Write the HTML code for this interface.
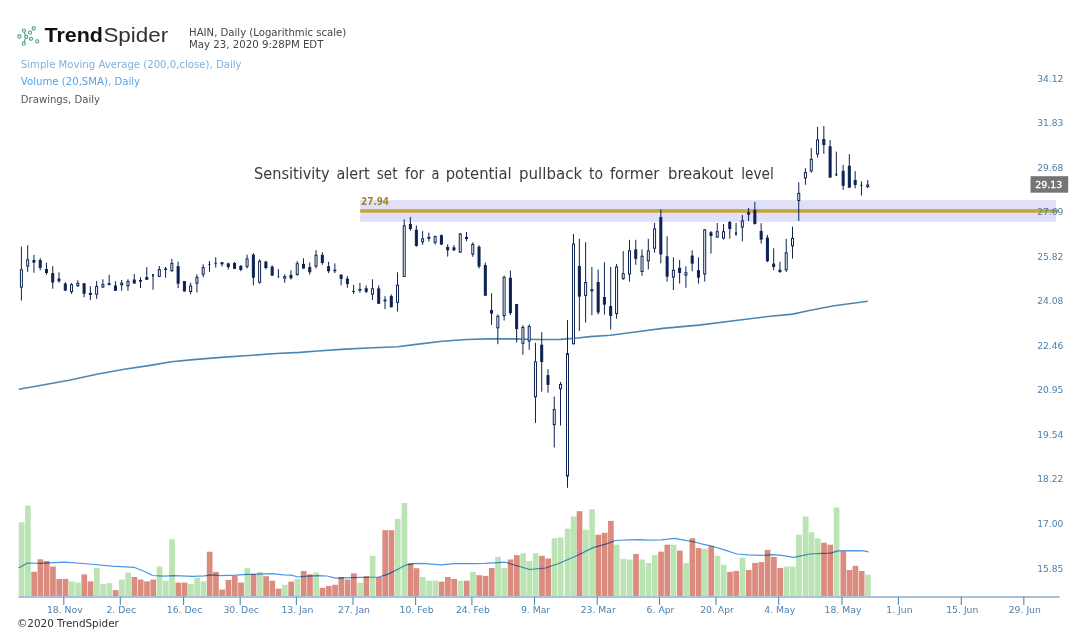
<!DOCTYPE html><html><head><meta charset="utf-8"><title>TrendSpider HAIN</title>
<style>html,body{margin:0;padding:0;background:#fff}svg{display:block}text{font-family:"DejaVu Sans Condensed","DejaVu Sans","Liberation Sans",sans-serif}.lg{font-family:"Liberation Sans",sans-serif}.n{font-family:"DejaVu Sans","Liberation Sans",sans-serif}</style></head><body>
<svg width="1086" height="638" viewBox="0 0 1086 638">
<rect width="1086" height="638" fill="#fff"/>
<rect x="360.2" y="200.1" width="695.8" height="21.7" fill="#e0e0fb"/>
<g>
<rect x="18.75" y="522.3" width="5.7" height="74.3" fill="#bae4b3"/>
<rect x="25.02" y="505.7" width="5.7" height="90.9" fill="#bae4b3"/>
<rect x="31.29" y="571.8" width="5.7" height="24.8" fill="#db8c7f"/>
<rect x="37.56" y="559.3" width="5.7" height="37.3" fill="#db8c7f"/>
<rect x="43.83" y="561.0" width="5.7" height="35.6" fill="#db8c7f"/>
<rect x="50.09" y="566.5" width="5.7" height="30.1" fill="#db8c7f"/>
<rect x="56.36" y="578.9" width="5.7" height="17.7" fill="#db8c7f"/>
<rect x="62.63" y="578.9" width="5.7" height="17.7" fill="#db8c7f"/>
<rect x="68.90" y="581.4" width="5.7" height="15.2" fill="#bae4b3"/>
<rect x="75.17" y="582.6" width="5.7" height="14.0" fill="#bae4b3"/>
<rect x="81.44" y="574.4" width="5.7" height="22.2" fill="#db8c7f"/>
<rect x="87.71" y="581.4" width="5.7" height="15.2" fill="#db8c7f"/>
<rect x="93.98" y="568.0" width="5.7" height="28.6" fill="#bae4b3"/>
<rect x="100.25" y="584.1" width="5.7" height="12.5" fill="#bae4b3"/>
<rect x="106.52" y="583.1" width="5.7" height="13.5" fill="#bae4b3"/>
<rect x="112.79" y="590.1" width="5.7" height="6.5" fill="#db8c7f"/>
<rect x="119.05" y="579.6" width="5.7" height="17.0" fill="#bae4b3"/>
<rect x="125.32" y="572.6" width="5.7" height="24.0" fill="#bae4b3"/>
<rect x="131.59" y="577.0" width="5.7" height="19.6" fill="#db8c7f"/>
<rect x="137.86" y="579.6" width="5.7" height="17.0" fill="#db8c7f"/>
<rect x="144.13" y="581.4" width="5.7" height="15.2" fill="#db8c7f"/>
<rect x="150.40" y="579.6" width="5.7" height="17.0" fill="#db8c7f"/>
<rect x="156.67" y="566.5" width="5.7" height="30.1" fill="#bae4b3"/>
<rect x="162.94" y="580.7" width="5.7" height="15.9" fill="#bae4b3"/>
<rect x="169.21" y="539.2" width="5.7" height="57.4" fill="#bae4b3"/>
<rect x="175.47" y="582.6" width="5.7" height="14.0" fill="#db8c7f"/>
<rect x="181.74" y="582.6" width="5.7" height="14.0" fill="#db8c7f"/>
<rect x="188.01" y="584.1" width="5.7" height="12.5" fill="#bae4b3"/>
<rect x="194.28" y="577.9" width="5.7" height="18.7" fill="#bae4b3"/>
<rect x="200.55" y="581.4" width="5.7" height="15.2" fill="#bae4b3"/>
<rect x="206.82" y="551.7" width="5.7" height="44.9" fill="#db8c7f"/>
<rect x="213.09" y="571.9" width="5.7" height="24.7" fill="#db8c7f"/>
<rect x="219.36" y="589.6" width="5.7" height="7.0" fill="#db8c7f"/>
<rect x="225.63" y="579.9" width="5.7" height="16.7" fill="#db8c7f"/>
<rect x="231.90" y="575.9" width="5.7" height="20.7" fill="#db8c7f"/>
<rect x="238.16" y="582.6" width="5.7" height="14.0" fill="#db8c7f"/>
<rect x="244.43" y="568.2" width="5.7" height="28.4" fill="#bae4b3"/>
<rect x="250.70" y="574.1" width="5.7" height="22.5" fill="#db8c7f"/>
<rect x="256.97" y="571.9" width="5.7" height="24.7" fill="#bae4b3"/>
<rect x="263.24" y="576.2" width="5.7" height="20.4" fill="#db8c7f"/>
<rect x="269.51" y="580.7" width="5.7" height="15.9" fill="#db8c7f"/>
<rect x="275.78" y="588.6" width="5.7" height="8.0" fill="#db8c7f"/>
<rect x="282.05" y="584.8" width="5.7" height="11.8" fill="#bae4b3"/>
<rect x="288.32" y="581.6" width="5.7" height="15.0" fill="#db8c7f"/>
<rect x="294.59" y="578.9" width="5.7" height="17.7" fill="#bae4b3"/>
<rect x="300.85" y="571.0" width="5.7" height="25.6" fill="#db8c7f"/>
<rect x="307.12" y="574.4" width="5.7" height="22.2" fill="#db8c7f"/>
<rect x="313.39" y="572.6" width="5.7" height="24.0" fill="#bae4b3"/>
<rect x="319.66" y="587.8" width="5.7" height="8.8" fill="#db8c7f"/>
<rect x="325.93" y="586.0" width="5.7" height="10.6" fill="#db8c7f"/>
<rect x="332.20" y="584.8" width="5.7" height="11.8" fill="#db8c7f"/>
<rect x="338.47" y="577.0" width="5.7" height="19.6" fill="#db8c7f"/>
<rect x="344.74" y="579.6" width="5.7" height="17.0" fill="#db8c7f"/>
<rect x="351.01" y="573.4" width="5.7" height="23.2" fill="#db8c7f"/>
<rect x="357.28" y="582.6" width="5.7" height="14.0" fill="#bae4b3"/>
<rect x="363.54" y="576.2" width="5.7" height="20.4" fill="#db8c7f"/>
<rect x="369.81" y="555.8" width="5.7" height="40.8" fill="#bae4b3"/>
<rect x="376.08" y="577.0" width="5.7" height="19.6" fill="#db8c7f"/>
<rect x="382.35" y="530.2" width="5.7" height="66.4" fill="#db8c7f"/>
<rect x="388.62" y="530.2" width="5.7" height="66.4" fill="#db8c7f"/>
<rect x="394.89" y="518.9" width="5.7" height="77.7" fill="#bae4b3"/>
<rect x="401.56" y="503.0" width="5.7" height="93.6" fill="#bae4b3"/>
<rect x="407.73" y="563.0" width="5.7" height="33.6" fill="#db8c7f"/>
<rect x="413.70" y="568.2" width="5.7" height="28.4" fill="#db8c7f"/>
<rect x="419.97" y="577.0" width="5.7" height="19.6" fill="#bae4b3"/>
<rect x="426.23" y="580.7" width="5.7" height="15.9" fill="#bae4b3"/>
<rect x="432.50" y="580.7" width="5.7" height="15.9" fill="#bae4b3"/>
<rect x="438.77" y="581.6" width="5.7" height="15.0" fill="#db8c7f"/>
<rect x="445.04" y="577.0" width="5.7" height="19.6" fill="#db8c7f"/>
<rect x="451.31" y="578.9" width="5.7" height="17.7" fill="#db8c7f"/>
<rect x="457.58" y="580.7" width="5.7" height="15.9" fill="#bae4b3"/>
<rect x="463.85" y="580.7" width="5.7" height="15.9" fill="#db8c7f"/>
<rect x="470.12" y="571.8" width="5.7" height="24.8" fill="#bae4b3"/>
<rect x="476.39" y="575.2" width="5.7" height="21.4" fill="#db8c7f"/>
<rect x="482.66" y="575.9" width="5.7" height="20.7" fill="#db8c7f"/>
<rect x="488.92" y="568.0" width="5.7" height="28.6" fill="#db8c7f"/>
<rect x="495.19" y="556.9" width="5.7" height="39.7" fill="#bae4b3"/>
<rect x="501.46" y="568.0" width="5.7" height="28.6" fill="#bae4b3"/>
<rect x="507.73" y="559.5" width="5.7" height="37.1" fill="#db8c7f"/>
<rect x="514.00" y="555.1" width="5.7" height="41.5" fill="#db8c7f"/>
<rect x="520.27" y="553.3" width="5.7" height="43.3" fill="#bae4b3"/>
<rect x="526.54" y="561.0" width="5.7" height="35.6" fill="#bae4b3"/>
<rect x="532.81" y="553.3" width="5.7" height="43.3" fill="#bae4b3"/>
<rect x="539.08" y="555.8" width="5.7" height="40.8" fill="#db8c7f"/>
<rect x="545.35" y="558.5" width="5.7" height="38.1" fill="#db8c7f"/>
<rect x="551.62" y="538.3" width="5.7" height="58.3" fill="#bae4b3"/>
<rect x="557.88" y="537.5" width="5.7" height="59.1" fill="#bae4b3"/>
<rect x="564.85" y="528.7" width="5.7" height="67.9" fill="#bae4b3"/>
<rect x="570.82" y="516.4" width="5.7" height="80.2" fill="#bae4b3"/>
<rect x="576.69" y="511.2" width="5.7" height="85.4" fill="#db8c7f"/>
<rect x="582.96" y="529.8" width="5.7" height="66.8" fill="#bae4b3"/>
<rect x="589.23" y="509.3" width="5.7" height="87.3" fill="#bae4b3"/>
<rect x="595.50" y="534.7" width="5.7" height="61.9" fill="#db8c7f"/>
<rect x="601.77" y="532.8" width="5.7" height="63.8" fill="#db8c7f"/>
<rect x="608.04" y="520.9" width="5.7" height="75.7" fill="#db8c7f"/>
<rect x="613.91" y="544.7" width="5.7" height="51.9" fill="#bae4b3"/>
<rect x="620.57" y="558.8" width="5.7" height="37.8" fill="#bae4b3"/>
<rect x="626.84" y="559.5" width="5.7" height="37.1" fill="#bae4b3"/>
<rect x="633.11" y="554.0" width="5.7" height="42.6" fill="#db8c7f"/>
<rect x="639.38" y="559.5" width="5.7" height="37.1" fill="#bae4b3"/>
<rect x="645.65" y="563.0" width="5.7" height="33.6" fill="#bae4b3"/>
<rect x="651.92" y="555.1" width="5.7" height="41.5" fill="#bae4b3"/>
<rect x="658.19" y="551.7" width="5.7" height="44.9" fill="#db8c7f"/>
<rect x="664.46" y="544.7" width="5.7" height="51.9" fill="#db8c7f"/>
<rect x="670.73" y="544.7" width="5.7" height="51.9" fill="#bae4b3"/>
<rect x="677.00" y="550.6" width="5.7" height="46.0" fill="#db8c7f"/>
<rect x="683.26" y="563.0" width="5.7" height="33.6" fill="#bae4b3"/>
<rect x="689.53" y="538.3" width="5.7" height="58.3" fill="#db8c7f"/>
<rect x="695.80" y="548.1" width="5.7" height="48.5" fill="#db8c7f"/>
<rect x="702.07" y="548.8" width="5.7" height="47.8" fill="#bae4b3"/>
<rect x="708.34" y="546.2" width="5.7" height="50.4" fill="#db8c7f"/>
<rect x="714.61" y="555.8" width="5.7" height="40.8" fill="#bae4b3"/>
<rect x="720.88" y="564.8" width="5.7" height="31.8" fill="#bae4b3"/>
<rect x="727.15" y="571.9" width="5.7" height="24.7" fill="#db8c7f"/>
<rect x="733.42" y="571.0" width="5.7" height="25.6" fill="#db8c7f"/>
<rect x="739.69" y="557.8" width="5.7" height="38.8" fill="#bae4b3"/>
<rect x="745.95" y="570.0" width="5.7" height="26.6" fill="#db8c7f"/>
<rect x="752.22" y="563.0" width="5.7" height="33.6" fill="#db8c7f"/>
<rect x="758.49" y="562.1" width="5.7" height="34.5" fill="#db8c7f"/>
<rect x="764.76" y="549.9" width="5.7" height="46.7" fill="#db8c7f"/>
<rect x="771.03" y="556.9" width="5.7" height="39.7" fill="#db8c7f"/>
<rect x="777.30" y="568.0" width="5.7" height="28.6" fill="#db8c7f"/>
<rect x="783.57" y="566.5" width="5.7" height="30.1" fill="#bae4b3"/>
<rect x="789.84" y="566.5" width="5.7" height="30.1" fill="#bae4b3"/>
<rect x="796.11" y="534.7" width="5.7" height="61.9" fill="#bae4b3"/>
<rect x="802.77" y="516.4" width="5.7" height="80.2" fill="#bae4b3"/>
<rect x="808.64" y="532.3" width="5.7" height="64.3" fill="#bae4b3"/>
<rect x="814.91" y="538.3" width="5.7" height="58.3" fill="#bae4b3"/>
<rect x="821.18" y="542.7" width="5.7" height="53.9" fill="#db8c7f"/>
<rect x="827.45" y="544.7" width="5.7" height="51.9" fill="#db8c7f"/>
<rect x="833.72" y="507.5" width="5.7" height="89.1" fill="#bae4b3"/>
<rect x="840.49" y="551.4" width="5.7" height="45.2" fill="#db8c7f"/>
<rect x="846.66" y="570.0" width="5.7" height="26.6" fill="#db8c7f"/>
<rect x="852.53" y="565.8" width="5.7" height="30.8" fill="#db8c7f"/>
<rect x="858.80" y="571.0" width="5.7" height="25.6" fill="#db8c7f"/>
<rect x="865.07" y="574.7" width="5.7" height="21.9" fill="#bae4b3"/>
</g>
<polyline fill="none" stroke="#4a96e6" stroke-width="1.2" stroke-linejoin="round" style="mix-blend-mode:multiply" points="18.6,568.0 27.6,563.0 40.3,563.3 64.1,562.2 89.4,564.0 111.7,566.2 134.0,567.3 144.5,571.5 152.6,575.5 163.8,576.2 175.0,575.7 192.3,576.4 204.2,575.9 211.7,574.9 220.6,575.6 235.5,575.2 247.4,574.4 259.3,574.1 272.7,573.7 283.1,574.9 291.3,575.2 298.0,577.0 306.9,576.2 318.8,575.6 327.0,576.0 335.4,578.1 344.3,577.9 360.7,577.4 378.6,577.0 387.5,574.4 394.9,570.7 405.4,565.2 414.3,563.7 421.7,563.3 441.1,564.8 454.5,563.7 473.8,563.7 485.0,563.4 505.3,562.2 518.7,566.2 529.9,569.5 545.5,568.0 557.4,564.0 576.7,555.8 593.1,547.6 606.5,543.9 615.4,540.5 628.8,539.8 640.0,539.6 648.4,540.2 661.8,539.8 674.4,538.4 684.1,540.2 694.5,542.0 703.5,544.4 712.4,546.2 724.3,549.9 736.9,554.0 748.1,554.8 761.5,555.4 773.4,554.6 783.8,555.7 793.4,557.3 809.8,554.0 821.7,553.3 830.6,553.1 838.0,550.9 854.4,550.6 863.3,550.9 868.5,551.8"/>
<rect x="18.5" y="596" width="1041" height="2" fill="#a6c2da"/>
<line x1="63.8" y1="597" x2="63.8" y2="604.9" stroke="#5288b6" stroke-width="1.1"/>
<text class="n" x="64.8" y="613.3" font-size="9.25" fill="#4d80ad" text-anchor="middle">18. Nov</text>
<line x1="120.3" y1="597" x2="120.3" y2="604.9" stroke="#5288b6" stroke-width="1.1"/>
<text class="n" x="121.3" y="613.3" font-size="9.25" fill="#4d80ad" text-anchor="middle">2. Dec</text>
<line x1="183.6" y1="597" x2="183.6" y2="604.9" stroke="#5288b6" stroke-width="1.1"/>
<text class="n" x="184.6" y="613.3" font-size="9.25" fill="#4d80ad" text-anchor="middle">16. Dec</text>
<line x1="240.2" y1="597" x2="240.2" y2="604.9" stroke="#5288b6" stroke-width="1.1"/>
<text class="n" x="241.2" y="613.3" font-size="9.25" fill="#4d80ad" text-anchor="middle">30. Dec</text>
<line x1="296.4" y1="597" x2="296.4" y2="604.9" stroke="#5288b6" stroke-width="1.1"/>
<text class="n" x="297.4" y="613.3" font-size="9.25" fill="#4d80ad" text-anchor="middle">13. Jan</text>
<line x1="353" y1="597" x2="353" y2="604.9" stroke="#5288b6" stroke-width="1.1"/>
<text class="n" x="354" y="613.3" font-size="9.25" fill="#4d80ad" text-anchor="middle">27. Jan</text>
<line x1="415.6" y1="597" x2="415.6" y2="604.9" stroke="#5288b6" stroke-width="1.1"/>
<text class="n" x="416.6" y="613.3" font-size="9.25" fill="#4d80ad" text-anchor="middle">10. Feb</text>
<line x1="471.9" y1="597" x2="471.9" y2="604.9" stroke="#5288b6" stroke-width="1.1"/>
<text class="n" x="472.9" y="613.3" font-size="9.25" fill="#4d80ad" text-anchor="middle">24. Feb</text>
<line x1="534.5" y1="597" x2="534.5" y2="604.9" stroke="#5288b6" stroke-width="1.1"/>
<text class="n" x="535.5" y="613.3" font-size="9.25" fill="#4d80ad" text-anchor="middle">9. Mar</text>
<line x1="597.2" y1="597" x2="597.2" y2="604.9" stroke="#5288b6" stroke-width="1.1"/>
<text class="n" x="598.2" y="613.3" font-size="9.25" fill="#4d80ad" text-anchor="middle">23. Mar</text>
<line x1="659.5" y1="597" x2="659.5" y2="604.9" stroke="#5288b6" stroke-width="1.1"/>
<text class="n" x="660.5" y="613.3" font-size="9.25" fill="#4d80ad" text-anchor="middle">6. Apr</text>
<line x1="716" y1="597" x2="716" y2="604.9" stroke="#5288b6" stroke-width="1.1"/>
<text class="n" x="717" y="613.3" font-size="9.25" fill="#4d80ad" text-anchor="middle">20. Apr</text>
<line x1="778.7" y1="597" x2="778.7" y2="604.9" stroke="#5288b6" stroke-width="1.1"/>
<text class="n" x="779.7" y="613.3" font-size="9.25" fill="#4d80ad" text-anchor="middle">4. May</text>
<line x1="842" y1="597" x2="842" y2="604.9" stroke="#5288b6" stroke-width="1.1"/>
<text class="n" x="843" y="613.3" font-size="9.25" fill="#4d80ad" text-anchor="middle">18. May</text>
<line x1="898.4" y1="597" x2="898.4" y2="604.9" stroke="#5288b6" stroke-width="1.1"/>
<text class="n" x="899.4" y="613.3" font-size="9.25" fill="#4d80ad" text-anchor="middle">1. Jun</text>
<line x1="961.3" y1="597" x2="961.3" y2="604.9" stroke="#5288b6" stroke-width="1.1"/>
<text class="n" x="962.3" y="613.3" font-size="9.25" fill="#4d80ad" text-anchor="middle">15. Jun</text>
<line x1="1023.8" y1="597" x2="1023.8" y2="604.9" stroke="#5288b6" stroke-width="1.1"/>
<text class="n" x="1024.8" y="613.3" font-size="9.25" fill="#4d80ad" text-anchor="middle">29. Jun</text>
<polyline fill="none" stroke="#4d86b3" stroke-width="1.6" stroke-linejoin="round" points="18.8,389.2 41.4,385.2 69.1,380.3 96.7,374.2 124.3,369.3 151.9,365.1 171.3,361.8 193.4,359.6 221.0,357.4 248.6,355.5 276.2,353.5 300.0,352.4 317.6,351.0 345.2,349.1 372.9,347.7 397.7,346.8 414.3,344.6 441.9,341.3 466.8,339.5 488.9,338.9 511.0,338.9 538.6,339.5 560.7,339.4 577.3,338.0 590.0,336.6 610.4,335.3 635.2,332.0 662.9,328.4 698.8,325.1 731.9,321.0 767.8,316.5 792.7,314.1 809.3,310.5 834.1,305.8 867.8,301.3"/>
<rect x="360.2" y="209.2" width="698.5" height="3.5" fill="#c6a52d"/>
<text x="361" y="205.1" font-size="10" font-weight="bold" fill="#9f8726" textLength="28" lengthAdjust="spacingAndGlyphs">27.94</text>
<text class="n" x="1037.2" y="81.5" font-size="9.25" fill="#4d80ad" textLength="26.2" lengthAdjust="spacingAndGlyphs">34.12</text>
<text class="n" x="1037.2" y="126.0" font-size="9.25" fill="#4d80ad" textLength="26.2" lengthAdjust="spacingAndGlyphs">31.83</text>
<text class="n" x="1037.2" y="170.6" font-size="9.25" fill="#4d80ad" textLength="26.2" lengthAdjust="spacingAndGlyphs">29.68</text>
<text class="n" x="1037.2" y="215.1" font-size="9.25" fill="#4d80ad" textLength="26.2" lengthAdjust="spacingAndGlyphs">27.69</text>
<text class="n" x="1037.2" y="259.7" font-size="9.25" fill="#4d80ad" textLength="26.2" lengthAdjust="spacingAndGlyphs">25.82</text>
<text class="n" x="1037.2" y="304.2" font-size="9.25" fill="#4d80ad" textLength="26.2" lengthAdjust="spacingAndGlyphs">24.08</text>
<text class="n" x="1037.2" y="348.8" font-size="9.25" fill="#4d80ad" textLength="26.2" lengthAdjust="spacingAndGlyphs">22.46</text>
<text class="n" x="1037.2" y="393.3" font-size="9.25" fill="#4d80ad" textLength="26.2" lengthAdjust="spacingAndGlyphs">20.95</text>
<text class="n" x="1037.2" y="437.9" font-size="9.25" fill="#4d80ad" textLength="26.2" lengthAdjust="spacingAndGlyphs">19.54</text>
<text class="n" x="1037.2" y="482.4" font-size="9.25" fill="#4d80ad" textLength="26.2" lengthAdjust="spacingAndGlyphs">18.22</text>
<text class="n" x="1037.2" y="527.0" font-size="9.25" fill="#4d80ad" textLength="26.2" lengthAdjust="spacingAndGlyphs">17.00</text>
<text class="n" x="1037.2" y="571.5" font-size="9.25" fill="#4d80ad" textLength="26.2" lengthAdjust="spacingAndGlyphs">15.85</text>
<g stroke="#0c2252" stroke-width="1">
<line x1="21.40" y1="246.7" x2="21.40" y2="300.5"/>
<rect x="20.40" y="269.8" width="2" height="17.3" fill="#fff"/>
<line x1="27.67" y1="245.2" x2="27.67" y2="271.8"/>
<rect x="26.67" y="259.8" width="2" height="6.3" fill="#fff"/>
<line x1="33.94" y1="254.9" x2="33.94" y2="272.7"/>
<rect x="32.94" y="260.5" width="2" height="1.6" fill="#0c2252"/>
<line x1="40.21" y1="258.3" x2="40.21" y2="270.3"/>
<rect x="39.21" y="260.5" width="2" height="6.8" fill="#0c2252"/>
<line x1="46.48" y1="262.6" x2="46.48" y2="274.6"/>
<rect x="45.48" y="269.5" width="2" height="3.0" fill="#0c2252"/>
<line x1="52.74" y1="266.2" x2="52.74" y2="288.7"/>
<rect x="51.74" y="273.6" width="2" height="8.4" fill="#0c2252"/>
<line x1="59.01" y1="272.3" x2="59.01" y2="282.8"/>
<rect x="58.01" y="279.1" width="2" height="1.6" fill="#0c2252"/>
<line x1="65.28" y1="282.3" x2="65.28" y2="290.8"/>
<rect x="64.28" y="284.0" width="2" height="6.1" fill="#0c2252"/>
<line x1="71.55" y1="283.1" x2="71.55" y2="293.8"/>
<rect x="70.55" y="284.7" width="2" height="7.0" fill="#fff"/>
<line x1="77.82" y1="280.3" x2="77.82" y2="287.0"/>
<rect x="76.82" y="283.3" width="2" height="2.3" fill="#fff"/>
<line x1="84.09" y1="283.1" x2="84.09" y2="297.4"/>
<rect x="83.09" y="283.8" width="2" height="9.5" fill="#0c2252"/>
<line x1="90.36" y1="286.3" x2="90.36" y2="300.0"/>
<rect x="89.36" y="293.4" width="2" height="1.1" fill="#0c2252"/>
<line x1="96.63" y1="281.1" x2="96.63" y2="298.9"/>
<rect x="95.63" y="286.5" width="2" height="7.7" fill="#fff"/>
<line x1="102.90" y1="279.3" x2="102.90" y2="287.8"/>
<rect x="101.90" y="284.6" width="2" height="2.4" fill="#fff"/>
<line x1="109.17" y1="274.9" x2="109.17" y2="285.2"/>
<rect x="108.17" y="283.7" width="2" height="0.8" fill="#fff"/>
<line x1="115.44" y1="281.2" x2="115.44" y2="291.0"/>
<rect x="114.44" y="286.0" width="2" height="4.3" fill="#0c2252"/>
<line x1="121.70" y1="280.0" x2="121.70" y2="290.8"/>
<rect x="120.70" y="283.1" width="2" height="1.7" fill="#fff"/>
<line x1="127.97" y1="279.3" x2="127.97" y2="290.8"/>
<rect x="126.97" y="281.4" width="2" height="4.3" fill="#fff"/>
<line x1="134.24" y1="274.0" x2="134.24" y2="283.7"/>
<rect x="133.24" y="280.0" width="2" height="3.0" fill="#0c2252"/>
<line x1="140.51" y1="277.2" x2="140.51" y2="288.0"/>
<rect x="139.51" y="280.5" width="2" height="0.6" fill="#0c2252"/>
<line x1="146.78" y1="267.1" x2="146.78" y2="280.0"/>
<rect x="145.78" y="277.5" width="2" height="1.8" fill="#0c2252"/>
<line x1="153.05" y1="274.0" x2="153.05" y2="289.8"/>
<rect x="152.45" y="274.6" width="1.2" height="1.6" fill="#0c2252" stroke-width="0.6"/>
<line x1="159.32" y1="266.0" x2="159.32" y2="277.2"/>
<rect x="158.32" y="269.6" width="2" height="6.7" fill="#fff"/>
<line x1="165.59" y1="266.9" x2="165.59" y2="277.7"/>
<rect x="164.59" y="269.0" width="2" height="0.5" fill="#fff"/>
<line x1="171.86" y1="259.0" x2="171.86" y2="271.7"/>
<rect x="170.86" y="263.5" width="2" height="7.2" fill="#fff"/>
<line x1="178.12" y1="261.6" x2="178.12" y2="288.0"/>
<rect x="177.12" y="266.7" width="2" height="16.5" fill="#0c2252"/>
<line x1="184.39" y1="281.1" x2="184.39" y2="291.5"/>
<rect x="183.39" y="281.6" width="2" height="9.4" fill="#0c2252"/>
<line x1="190.66" y1="282.8" x2="190.66" y2="294.3"/>
<rect x="189.66" y="286.0" width="2" height="5.5" fill="#fff"/>
<line x1="196.93" y1="274.3" x2="196.93" y2="292.4"/>
<rect x="195.93" y="277.3" width="2" height="5.9" fill="#fff"/>
<line x1="203.20" y1="264.3" x2="203.20" y2="277.2"/>
<rect x="202.20" y="267.6" width="2" height="6.6" fill="#fff"/>
<line x1="209.47" y1="261.1" x2="209.47" y2="271.9"/>
<rect x="208.37" y="264.4" width="2.2" height="0.4" fill="#0c2252" stroke-width="0.4"/>
<line x1="215.74" y1="257.2" x2="215.74" y2="267.6"/>
<rect x="214.64" y="263.0" width="2.2" height="0.4" fill="#0c2252" stroke-width="0.4"/>
<line x1="222.01" y1="262.0" x2="222.01" y2="266.6"/>
<rect x="221.01" y="262.7" width="2" height="1.1" fill="#0c2252"/>
<line x1="228.28" y1="262.7" x2="228.28" y2="269.4"/>
<rect x="227.28" y="263.9" width="2" height="2.7" fill="#0c2252"/>
<line x1="234.55" y1="262.0" x2="234.55" y2="269.1"/>
<rect x="233.55" y="263.5" width="2" height="4.8" fill="#0c2252"/>
<line x1="240.81" y1="265.3" x2="240.81" y2="271.2"/>
<rect x="239.81" y="266.2" width="2" height="3.2" fill="#0c2252"/>
<line x1="247.08" y1="254.7" x2="247.08" y2="268.5"/>
<rect x="246.08" y="258.9" width="2" height="7.5" fill="#fff"/>
<line x1="253.35" y1="253.1" x2="253.35" y2="285.3"/>
<rect x="252.35" y="255.2" width="2" height="22.0" fill="#0c2252"/>
<line x1="259.62" y1="259.3" x2="259.62" y2="283.7"/>
<rect x="258.62" y="261.3" width="2" height="21.0" fill="#fff"/>
<line x1="265.89" y1="260.8" x2="265.89" y2="269.4"/>
<rect x="264.89" y="262.1" width="2" height="5.4" fill="#0c2252"/>
<line x1="272.16" y1="265.4" x2="272.16" y2="275.6"/>
<rect x="271.16" y="267.1" width="2" height="8.0" fill="#0c2252"/>
<line x1="278.43" y1="269.1" x2="278.43" y2="277.4"/>
<rect x="277.83" y="276.8" width="1.2" height="0.3" fill="#0c2252" stroke-width="0.6"/>
<line x1="284.70" y1="274.3" x2="284.70" y2="282.8"/>
<rect x="283.70" y="276.6" width="2" height="1.5" fill="#fff"/>
<line x1="290.97" y1="270.3" x2="290.97" y2="279.5"/>
<rect x="289.97" y="275.4" width="2" height="2.4" fill="#0c2252"/>
<line x1="297.24" y1="261.1" x2="297.24" y2="275.8"/>
<rect x="296.24" y="263.7" width="2" height="10.7" fill="#fff"/>
<line x1="303.50" y1="258.4" x2="303.50" y2="268.8"/>
<rect x="302.50" y="264.4" width="2" height="3.6" fill="#0c2252"/>
<line x1="309.77" y1="262.5" x2="309.77" y2="274.7"/>
<rect x="308.77" y="267.6" width="2" height="4.1" fill="#0c2252"/>
<line x1="316.04" y1="250.1" x2="316.04" y2="268.5"/>
<rect x="315.04" y="255.2" width="2" height="10.9" fill="#fff"/>
<line x1="322.31" y1="252.2" x2="322.31" y2="264.8"/>
<rect x="321.31" y="255.4" width="2" height="7.1" fill="#0c2252"/>
<line x1="328.58" y1="261.8" x2="328.58" y2="273.1"/>
<rect x="327.58" y="266.7" width="2" height="4.0" fill="#0c2252"/>
<line x1="334.85" y1="263.4" x2="334.85" y2="273.1"/>
<rect x="333.85" y="270.2" width="2" height="0.5" fill="#0c2252"/>
<line x1="341.12" y1="274.3" x2="341.12" y2="285.5"/>
<rect x="340.12" y="275.2" width="2" height="3.2" fill="#0c2252"/>
<line x1="347.39" y1="276.1" x2="347.39" y2="287.8"/>
<rect x="346.39" y="279.1" width="2" height="4.5" fill="#0c2252"/>
<line x1="353.66" y1="284.8" x2="353.66" y2="294.0"/>
<rect x="352.56" y="291.1" width="2.2" height="0.7" fill="#0c2252" stroke-width="0.4"/>
<line x1="359.93" y1="282.9" x2="359.93" y2="292.9"/>
<rect x="358.93" y="289.5" width="2" height="0.6" fill="#fff"/>
<line x1="366.19" y1="285.5" x2="366.19" y2="293.1"/>
<rect x="365.19" y="288.8" width="2" height="2.5" fill="#0c2252"/>
<line x1="372.46" y1="279.3" x2="372.46" y2="300.0"/>
<rect x="371.46" y="288.8" width="2" height="5.4" fill="#fff"/>
<line x1="378.73" y1="285.4" x2="378.73" y2="303.8"/>
<rect x="377.73" y="288.9" width="2" height="14.4" fill="#0c2252"/>
<line x1="385.00" y1="296.2" x2="385.00" y2="309.1"/>
<rect x="384.00" y="300.1" width="2" height="0.7" fill="#0c2252"/>
<line x1="391.27" y1="294.4" x2="391.27" y2="307.3"/>
<rect x="390.27" y="296.4" width="2" height="10.4" fill="#0c2252"/>
<line x1="397.54" y1="272.3" x2="397.54" y2="311.7"/>
<rect x="396.54" y="285.2" width="2" height="17.1" fill="#fff"/>
<line x1="404.21" y1="219.3" x2="404.21" y2="276.9"/>
<rect x="403.21" y="225.8" width="2" height="50.6" fill="#fff"/>
<line x1="410.38" y1="217.0" x2="410.38" y2="230.8"/>
<rect x="409.38" y="224.4" width="2" height="4.2" fill="#0c2252"/>
<line x1="416.35" y1="225.4" x2="416.35" y2="246.6"/>
<rect x="415.35" y="230.2" width="2" height="15.3" fill="#0c2252"/>
<line x1="422.62" y1="231.1" x2="422.62" y2="244.8"/>
<rect x="421.62" y="238.8" width="2" height="3.0" fill="#fff"/>
<line x1="428.88" y1="232.6" x2="428.88" y2="241.6"/>
<rect x="427.88" y="237.3" width="2" height="1.1" fill="#fff"/>
<line x1="435.15" y1="235.6" x2="435.15" y2="244.6"/>
<rect x="434.15" y="236.6" width="2" height="5.7" fill="#fff"/>
<line x1="441.42" y1="234.5" x2="441.42" y2="244.8"/>
<rect x="440.42" y="235.7" width="2" height="8.4" fill="#0c2252"/>
<line x1="447.69" y1="244.1" x2="447.69" y2="256.6"/>
<rect x="446.69" y="247.4" width="2" height="2.4" fill="#0c2252"/>
<line x1="453.96" y1="245.1" x2="453.96" y2="251.0"/>
<rect x="452.96" y="247.9" width="2" height="1.9" fill="#0c2252"/>
<line x1="460.23" y1="233.1" x2="460.23" y2="252.9"/>
<rect x="459.23" y="234.0" width="2" height="18.1" fill="#fff"/>
<line x1="466.50" y1="231.9" x2="466.50" y2="241.4"/>
<rect x="465.50" y="237.5" width="2" height="1.0" fill="#0c2252"/>
<line x1="472.77" y1="242.3" x2="472.77" y2="256.8"/>
<rect x="471.77" y="244.4" width="2" height="9.6" fill="#fff"/>
<line x1="479.04" y1="245.3" x2="479.04" y2="268.5"/>
<rect x="478.04" y="247.1" width="2" height="19.0" fill="#0c2252"/>
<line x1="485.31" y1="262.6" x2="485.31" y2="295.7"/>
<rect x="484.31" y="265.6" width="2" height="29.6" fill="#0c2252"/>
<line x1="491.57" y1="293.2" x2="491.57" y2="324.9"/>
<rect x="490.57" y="310.6" width="2" height="2.5" fill="#0c2252"/>
<line x1="497.84" y1="314.5" x2="497.84" y2="344.2"/>
<rect x="496.84" y="316.2" width="2" height="11.6" fill="#fff"/>
<line x1="504.11" y1="275.6" x2="504.11" y2="320.5"/>
<rect x="503.11" y="277.4" width="2" height="38.2" fill="#fff"/>
<line x1="510.38" y1="270.6" x2="510.38" y2="315.1"/>
<rect x="509.38" y="278.3" width="2" height="34.4" fill="#0c2252"/>
<line x1="516.65" y1="304.1" x2="516.65" y2="342.5"/>
<rect x="515.65" y="304.6" width="2" height="24.0" fill="#0c2252"/>
<line x1="522.92" y1="325.2" x2="522.92" y2="354.8"/>
<rect x="521.92" y="327.5" width="2" height="15.8" fill="#fff"/>
<line x1="529.19" y1="324.4" x2="529.19" y2="349.8"/>
<rect x="528.19" y="326.5" width="2" height="14.5" fill="#fff"/>
<line x1="535.46" y1="342.8" x2="535.46" y2="422.9"/>
<rect x="534.46" y="361.9" width="2" height="34.8" fill="#fff"/>
<line x1="541.73" y1="332.2" x2="541.73" y2="391.7"/>
<rect x="540.73" y="345.2" width="2" height="16.3" fill="#0c2252"/>
<line x1="548.00" y1="369.2" x2="548.00" y2="392.7"/>
<rect x="547.00" y="375.6" width="2" height="8.8" fill="#0c2252"/>
<line x1="554.26" y1="396.5" x2="554.26" y2="447.5"/>
<rect x="553.26" y="409.6" width="2" height="15.0" fill="#fff"/>
<line x1="560.53" y1="382.0" x2="560.53" y2="425.6"/>
<rect x="559.53" y="384.4" width="2" height="4.3" fill="#fff"/>
<line x1="567.50" y1="320.1" x2="567.50" y2="487.8"/>
<rect x="566.50" y="353.7" width="2" height="122.3" fill="#fff"/>
<line x1="573.47" y1="234.0" x2="573.47" y2="344.3"/>
<rect x="572.47" y="244.0" width="2" height="99.8" fill="#fff"/>
<line x1="579.34" y1="238.8" x2="579.34" y2="331.0"/>
<rect x="578.34" y="266.6" width="2" height="29.5" fill="#0c2252"/>
<line x1="585.61" y1="242.2" x2="585.61" y2="322.5"/>
<rect x="584.61" y="282.5" width="2" height="12.9" fill="#fff"/>
<line x1="591.88" y1="267.0" x2="591.88" y2="315.2"/>
<rect x="590.88" y="289.7" width="2" height="1.0" fill="#fff"/>
<line x1="598.15" y1="269.5" x2="598.15" y2="314.5"/>
<rect x="597.15" y="282.5" width="2" height="29.5" fill="#0c2252"/>
<line x1="604.42" y1="262.3" x2="604.42" y2="314.5"/>
<rect x="603.42" y="297.5" width="2" height="6.6" fill="#0c2252"/>
<line x1="610.69" y1="267.0" x2="610.69" y2="329.6"/>
<rect x="609.69" y="306.6" width="2" height="8.8" fill="#0c2252"/>
<line x1="616.56" y1="264.1" x2="616.56" y2="318.6"/>
<rect x="615.56" y="266.9" width="2" height="46.6" fill="#fff"/>
<line x1="623.22" y1="251.1" x2="623.22" y2="279.9"/>
<rect x="622.22" y="273.7" width="2" height="4.9" fill="#fff"/>
<line x1="629.49" y1="239.8" x2="629.49" y2="281.6"/>
<rect x="628.49" y="250.8" width="2" height="23.2" fill="#fff"/>
<line x1="635.76" y1="239.8" x2="635.76" y2="264.8"/>
<rect x="634.76" y="249.9" width="2" height="8.4" fill="#0c2252"/>
<line x1="642.03" y1="249.4" x2="642.03" y2="275.8"/>
<rect x="641.03" y="256.2" width="2" height="15.3" fill="#fff"/>
<line x1="648.30" y1="238.8" x2="648.30" y2="269.5"/>
<rect x="647.30" y="250.9" width="2" height="9.9" fill="#fff"/>
<line x1="654.57" y1="223.0" x2="654.57" y2="252.7"/>
<rect x="653.57" y="228.9" width="2" height="19.3" fill="#fff"/>
<line x1="660.84" y1="209.3" x2="660.84" y2="263.3"/>
<rect x="659.84" y="217.5" width="2" height="36.5" fill="#0c2252"/>
<line x1="667.11" y1="236.3" x2="667.11" y2="281.6"/>
<rect x="666.11" y="256.8" width="2" height="19.3" fill="#0c2252"/>
<line x1="673.38" y1="257.3" x2="673.38" y2="290.0"/>
<rect x="672.38" y="270.3" width="2" height="6.8" fill="#fff"/>
<line x1="679.64" y1="260.0" x2="679.64" y2="283.6"/>
<rect x="678.64" y="268.3" width="2" height="4.1" fill="#0c2252"/>
<line x1="685.91" y1="266.3" x2="685.91" y2="287.8"/>
<rect x="684.91" y="272.7" width="2" height="2.4" fill="#fff"/>
<line x1="692.18" y1="250.3" x2="692.18" y2="271.2"/>
<rect x="691.18" y="256.1" width="2" height="7.0" fill="#0c2252"/>
<line x1="698.45" y1="257.3" x2="698.45" y2="283.6"/>
<rect x="697.45" y="270.7" width="2" height="6.4" fill="#0c2252"/>
<line x1="704.72" y1="229.0" x2="704.72" y2="281.6"/>
<rect x="703.72" y="229.9" width="2" height="44.1" fill="#fff"/>
<line x1="710.99" y1="231.0" x2="710.99" y2="253.6"/>
<rect x="709.99" y="232.8" width="2" height="2.6" fill="#0c2252"/>
<line x1="717.26" y1="223.0" x2="717.26" y2="237.6"/>
<rect x="716.26" y="231.7" width="2" height="5.4" fill="#fff"/>
<line x1="723.53" y1="224.0" x2="723.53" y2="239.6"/>
<rect x="722.53" y="231.7" width="2" height="6.4" fill="#fff"/>
<line x1="729.80" y1="221.0" x2="729.80" y2="238.7"/>
<rect x="728.80" y="222.5" width="2" height="6.0" fill="#0c2252"/>
<line x1="736.07" y1="223.0" x2="736.07" y2="235.8"/>
<rect x="735.47" y="232.6" width="1.2" height="1.7" fill="#0c2252" stroke-width="0.6"/>
<line x1="742.34" y1="215.1" x2="742.34" y2="241.3"/>
<rect x="741.34" y="220.8" width="2" height="6.3" fill="#fff"/>
<line x1="748.60" y1="208.0" x2="748.60" y2="221.0"/>
<rect x="747.60" y="212.8" width="2" height="1.4" fill="#0c2252"/>
<line x1="754.87" y1="201.9" x2="754.87" y2="224.6"/>
<rect x="753.87" y="210.4" width="2" height="13.1" fill="#0c2252"/>
<line x1="761.14" y1="223.2" x2="761.14" y2="243.6"/>
<rect x="760.14" y="231.5" width="2" height="7.6" fill="#0c2252"/>
<line x1="767.41" y1="234.9" x2="767.41" y2="262.2"/>
<rect x="766.41" y="238.1" width="2" height="22.6" fill="#0c2252"/>
<line x1="773.68" y1="248.3" x2="773.68" y2="270.2"/>
<rect x="772.68" y="264.1" width="2" height="2.3" fill="#0c2252"/>
<line x1="779.95" y1="261.8" x2="779.95" y2="272.9"/>
<rect x="778.95" y="270.3" width="2" height="1.2" fill="#0c2252"/>
<line x1="786.22" y1="238.9" x2="786.22" y2="272.0"/>
<rect x="785.22" y="252.8" width="2" height="16.9" fill="#fff"/>
<line x1="792.49" y1="226.6" x2="792.49" y2="258.6"/>
<rect x="791.49" y="238.4" width="2" height="7.4" fill="#fff"/>
<line x1="798.76" y1="182.3" x2="798.76" y2="221.0"/>
<rect x="797.76" y="193.4" width="2" height="7.1" fill="#fff"/>
<line x1="805.42" y1="168.2" x2="805.42" y2="184.8"/>
<rect x="804.42" y="172.5" width="2" height="5.5" fill="#fff"/>
<line x1="811.29" y1="148.2" x2="811.29" y2="172.6"/>
<rect x="810.29" y="159.3" width="2" height="11.6" fill="#fff"/>
<line x1="817.56" y1="126.9" x2="817.56" y2="157.6"/>
<rect x="816.56" y="139.9" width="2" height="14.1" fill="#fff"/>
<line x1="823.83" y1="126.0" x2="823.83" y2="153.8"/>
<rect x="822.83" y="139.5" width="2" height="5.1" fill="#0c2252"/>
<line x1="830.10" y1="140.0" x2="830.10" y2="177.6"/>
<rect x="829.10" y="146.8" width="2" height="30.3" fill="#0c2252"/>
<line x1="836.37" y1="151.6" x2="836.37" y2="175.8"/>
<rect x="835.77" y="173.9" width="1.2" height="1.6" fill="#0c2252" stroke-width="0.6"/>
<line x1="843.14" y1="164.9" x2="843.14" y2="189.9"/>
<rect x="842.14" y="171.3" width="2" height="14.0" fill="#0c2252"/>
<line x1="849.31" y1="154.1" x2="849.31" y2="187.7"/>
<rect x="848.31" y="166.2" width="2" height="21.0" fill="#0c2252"/>
<line x1="855.18" y1="171.1" x2="855.18" y2="188.3"/>
<rect x="854.18" y="180.4" width="2" height="4.0" fill="#0c2252"/>
<line x1="861.45" y1="181.4" x2="861.45" y2="195.6"/>
<rect x="860.35" y="185.1" width="2.2" height="0.5" fill="#0c2252" stroke-width="0.4"/>
<line x1="867.72" y1="179.9" x2="867.72" y2="188.3"/>
<rect x="866.72" y="185.0" width="2" height="1.5" fill="#fff"/>
</g>
<rect x="1030.5" y="176.2" width="37.7" height="16.5" fill="#757575"/>
<text class="n" x="1035.3" y="187.8" font-size="9.3" fill="#fff" stroke="#fff" stroke-width="0.3" textLength="26.8" lengthAdjust="spacingAndGlyphs">29.13</text>
<text y="178.7" font-size="16" fill="#3a3a3a"><tspan x="254.1" textLength="75.5" lengthAdjust="spacingAndGlyphs">Sensitivity</tspan> <tspan x="336.5" textLength="33.2" lengthAdjust="spacingAndGlyphs">alert</tspan> <tspan x="376.8" textLength="20.7" lengthAdjust="spacingAndGlyphs">set</tspan> <tspan x="405.0" textLength="19.4" lengthAdjust="spacingAndGlyphs">for</tspan> <tspan x="431.6" textLength="8.0" lengthAdjust="spacingAndGlyphs">a</tspan> <tspan x="445.7" textLength="66.0" lengthAdjust="spacingAndGlyphs">potential</tspan> <tspan x="519.0" textLength="63.1" lengthAdjust="spacingAndGlyphs">pullback</tspan> <tspan x="589.0" textLength="14.0" lengthAdjust="spacingAndGlyphs">to</tspan> <tspan x="609.9" textLength="49.4" lengthAdjust="spacingAndGlyphs">former</tspan> <tspan x="668.0" textLength="65.4" lengthAdjust="spacingAndGlyphs">breakout</tspan> <tspan x="741.2" textLength="32.5" lengthAdjust="spacingAndGlyphs">level</tspan></text>
<g fill="none" stroke="#4d9e88" stroke-width="1.1">
<path d="M23.9 30.6 L25.9 36.8 L23.75 43.65"/>
<circle cx="33.7" cy="28.5" r="1.6" fill="#fff"/>
<circle cx="23.9" cy="30.6" r="1.6" fill="#fff"/>
<circle cx="30.0" cy="32.6" r="1.6" fill="#fff"/>
<circle cx="19.5" cy="36.5" r="1.6" fill="#fff"/>
<circle cx="26.2" cy="36.8" r="1.6" fill="#fff"/>
<circle cx="31.0" cy="38.8" r="1.6" fill="#fff"/>
<circle cx="37.2" cy="41.4" r="1.6" fill="#fff"/>
<circle cx="23.75" cy="43.65" r="1.6" fill="#fff"/>
</g>
<text class="lg" x="44.5" y="41.9" font-size="19.5" font-weight="bold" fill="#111" textLength="58.5" lengthAdjust="spacingAndGlyphs">Trend</text>
<text class="lg" x="103.4" y="41.9" font-size="19.5" fill="#303030" textLength="64.8" lengthAdjust="spacingAndGlyphs">Spider</text>
<text class="n" x="189.1" y="35.6" font-size="10" fill="#444" textLength="157.2" lengthAdjust="spacingAndGlyphs">HAIN, Daily (Logarithmic scale)</text>
<text class="n" x="189.1" y="48.2" font-size="10" fill="#444" textLength="134.3" lengthAdjust="spacingAndGlyphs">May 23, 2020 9:28PM EDT</text>
<text class="n" x="20.8" y="67.7" font-size="10" fill="#7fb0dc" textLength="220.8" lengthAdjust="spacingAndGlyphs">Simple Moving Average (200,0,close), Daily</text>
<text class="n" x="20.8" y="85.4" font-size="10" fill="#55a3ea" textLength="119.3" lengthAdjust="spacingAndGlyphs">Volume (20,SMA), Daily</text>
<text class="n" x="20.8" y="102.9" font-size="10" fill="#555" textLength="79.2" lengthAdjust="spacingAndGlyphs">Drawings, Daily</text>
<text class="n" x="16.9" y="626.8" font-size="10.4" fill="#333" textLength="102" lengthAdjust="spacingAndGlyphs">©2020 TrendSpider</text>
</svg></body></html>
